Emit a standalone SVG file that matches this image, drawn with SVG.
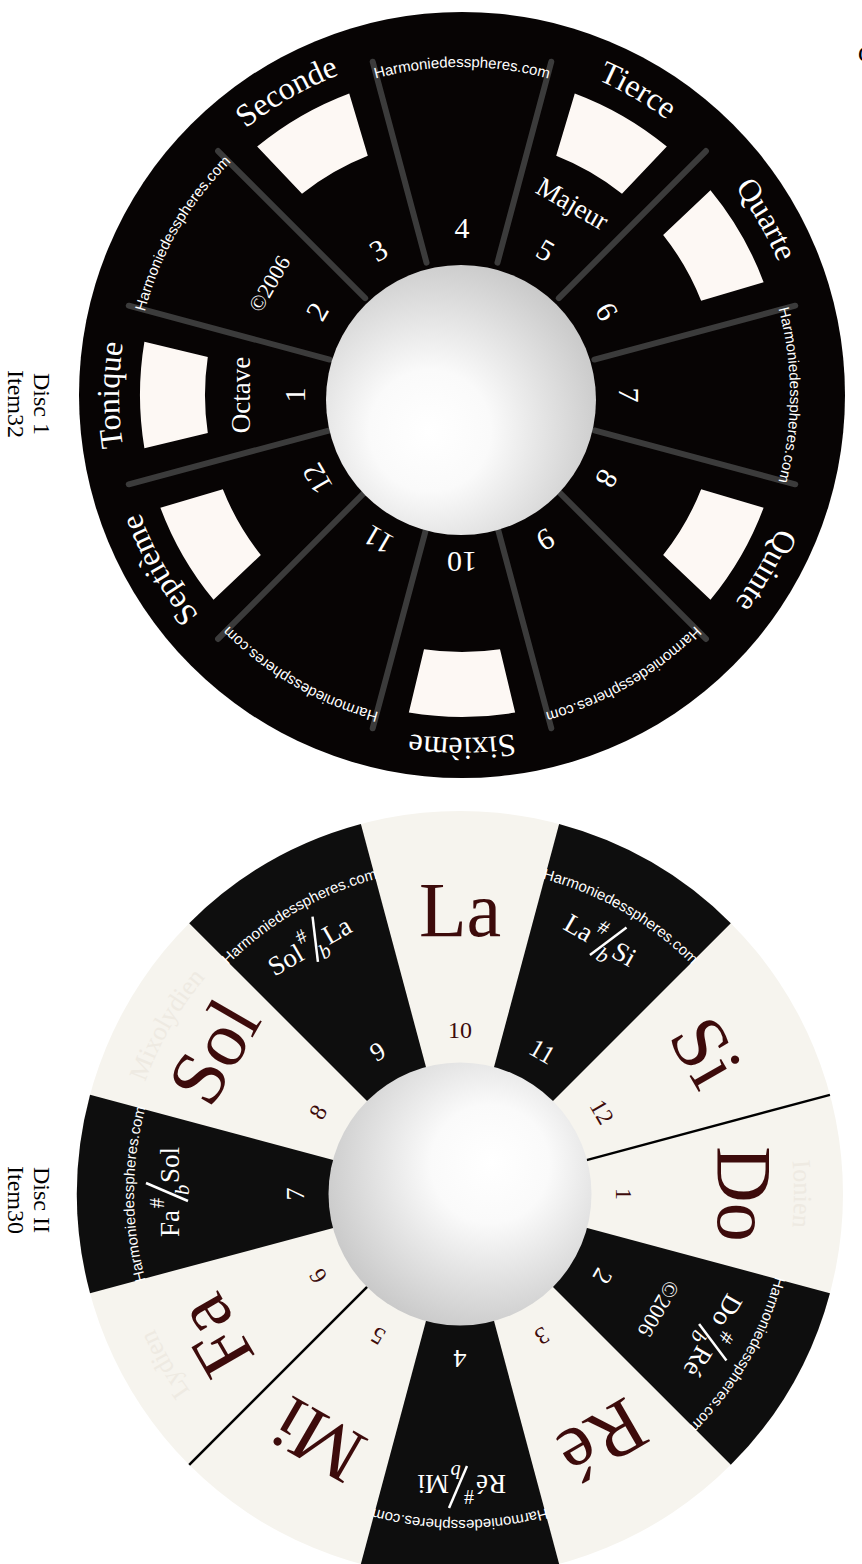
<svg xmlns="http://www.w3.org/2000/svg" width="862" height="1564" viewBox="0 0 862 1564">
<style>
.sf{font-family:"Liberation Serif","Times New Roman",serif}
.num1{font-family:"Liberation Serif",serif;font-size:30px;fill:#fff;text-anchor:middle}
.rim{font-family:"Liberation Serif",serif;font-size:32px;fill:#fff;text-anchor:middle}
.inn{font-family:"Liberation Serif",serif;font-size:27px;fill:#fff;text-anchor:middle}
.url{font-family:"Liberation Sans",Arial,sans-serif;font-size:15px;fill:#fff;text-anchor:middle}
.dv{stroke:#3b3b3b;stroke-width:6;stroke-linecap:round}
.win{fill:#fdf8f4}
.big{font-family:"Liberation Serif",serif;font-size:78px;fill:#3d0b0b;text-anchor:middle}
.n2c{font-family:"Liberation Serif",serif;font-size:24px;fill:#3d0b0b;text-anchor:middle}
.n2b{font-family:"Liberation Serif",serif;font-size:26px;fill:#fff;text-anchor:middle}
.fr{font-family:"Liberation Serif",serif;font-size:27px;fill:#fff}
.sup{font-family:"Liberation Serif",serif;font-size:20px;fill:#fff}
.sub{font-family:"Liberation Serif",serif;font-size:21px;font-style:italic;fill:#fff}
.sl{stroke:#fff;stroke-width:2.5}
.mode{font-family:"Liberation Serif",serif;font-size:26px;fill:#eeeae2;text-anchor:middle}
.lbl{font-family:"Liberation Serif",serif;font-size:24px;fill:#000;text-anchor:middle}
.blk{fill:#0e0e0e}
.thin{stroke:#000;stroke-width:2.5}
</style>
<defs>
<path id="a343" d="M -262.7,-220.5 A 343 343 0 0 1 262.7,-220.5"/>
<path id="a328" d="M -251.3,-210.8 A 328 328 0 0 1 251.3,-210.8"/>
<path id="a326" d="M -249.7,-209.6 A 326 326 0 0 1 249.7,-209.6"/>
<path id="a334" d="M -255.9,-214.7 A 334 334 0 0 1 255.9,-214.7"/>
<path id="win" d="M -53.15,-317.6 A 322 322 0 0 1 53.15,-317.6 L 37.99,-254.2 A 257 257 0 0 0 -37.99,-254.2 Z"/>
<path id="wedge" d="M 0,0 L -99.13,-369.95 A 383 383 0 0 1 99.13,-369.95 Z"/>
<radialGradient id="g1" cx="0.4" cy="0.6" r="0.75" fx="0.38" fy="0.62">
<stop offset="0" stop-color="#ffffff"/><stop offset="0.3" stop-color="#fafafa"/><stop offset="1" stop-color="#bdbdbd"/>
</radialGradient>
<radialGradient id="g2" cx="0.6" cy="0.4" r="0.75" fx="0.62" fy="0.38">
<stop offset="0" stop-color="#ffffff"/><stop offset="0.3" stop-color="#fafafa"/><stop offset="1" stop-color="#bdbdbd"/>
</radialGradient>
</defs>
<rect width="862" height="1564" fill="#fff"/>

<g id="disc1" transform="translate(462,395)">
<circle r="383" fill="#070404"/>
<g id="disc1-windows" class="win">
<use href="#win" transform="rotate(270)"/><use href="#win" transform="rotate(330)"/><use href="#win" transform="rotate(30)"/><use href="#win" transform="rotate(60)"/><use href="#win" transform="rotate(120)"/><use href="#win" transform="rotate(180)"/><use href="#win" transform="rotate(240)"/>
</g>
<g id="disc1-dividers" class="dv">
<line x1="0" y1="-137" x2="0" y2="-345" transform="rotate(105)"/><line x1="0" y1="-137" x2="0" y2="-345" transform="rotate(135)"/><line x1="0" y1="-137" x2="0" y2="-345" transform="rotate(165)"/><line x1="0" y1="-137" x2="0" y2="-345" transform="rotate(195)"/><line x1="0" y1="-137" x2="0" y2="-345" transform="rotate(225)"/><line x1="0" y1="-137" x2="0" y2="-345" transform="rotate(255)"/><line x1="0" y1="-137" x2="0" y2="-345" transform="rotate(285)"/><line x1="0" y1="-137" x2="0" y2="-345" transform="rotate(315)"/><line x1="0" y1="-137" x2="0" y2="-345" transform="rotate(345)"/><line x1="0" y1="-137" x2="0" y2="-345" transform="rotate(15)"/><line x1="0" y1="-137" x2="0" y2="-345" transform="rotate(45)"/><line x1="0" y1="-137" x2="0" y2="-345" transform="rotate(75)"/>
</g>
<circle cx="-1" cy="5" r="135" fill="url(#g1)"/>
<g id="disc1-rim">
<text class="rim" transform="rotate(270)"><textPath href="#a343" startOffset="50%">Tonique</textPath></text>
<text class="rim" transform="rotate(330)"><textPath href="#a343" startOffset="50%">Seconde</textPath></text>
<text class="rim" transform="rotate(30)"><textPath href="#a343" startOffset="50%">Tierce</textPath></text>
<text class="rim" transform="rotate(60)"><textPath href="#a343" startOffset="50%">Quarte</textPath></text>
<text class="rim" transform="rotate(120)"><textPath href="#a343" startOffset="50%">Quinte</textPath></text>
<text class="rim" transform="rotate(180)"><textPath href="#a343" startOffset="50%">Sixième</textPath></text>
<text class="rim" transform="rotate(240)"><textPath href="#a343" startOffset="50%">Septième</textPath></text>
<text class="url" transform="rotate(300)"><textPath href="#a328" startOffset="50%">Harmoniedesspheres.com</textPath></text>
<text class="url" transform="rotate(0)"><textPath href="#a328" startOffset="50%">Harmoniedesspheres.com</textPath></text>
<text class="url" transform="rotate(90)"><textPath href="#a328" startOffset="50%">Harmoniedesspheres.com</textPath></text>
<text class="url" transform="rotate(150)"><textPath href="#a328" startOffset="50%">Harmoniedesspheres.com</textPath></text>
<text class="url" transform="rotate(210)"><textPath href="#a328" startOffset="50%">Harmoniedesspheres.com</textPath></text>
</g>
<g id="disc1-inner">
<text class="inn" transform="rotate(270) translate(0,-212)">Octave</text>
<text class="inn" transform="rotate(30) translate(0,-212)">Majeur</text>
<text class="inn" style="font-size:22px" transform="rotate(300) translate(0,-215)">©2006</text>
</g>
<g id="disc1-numbers">
<text class="num1" transform="rotate(270) translate(0,-157)">1</text>
<text class="num1" transform="rotate(300) translate(0,-157)">2</text>
<text class="num1" transform="rotate(330) translate(0,-157)">3</text>
<text class="num1" transform="rotate(0) translate(0,-157)">4</text>
<text class="num1" transform="rotate(30) translate(0,-157)">5</text>
<text class="num1" transform="rotate(60) translate(0,-157)">6</text>
<text class="num1" transform="rotate(90) translate(0,-157)">7</text>
<text class="num1" transform="rotate(120) translate(0,-157)">8</text>
<text class="num1" transform="rotate(150) translate(0,-157)">9</text>
<text class="num1" transform="rotate(180) translate(0,-157)">10</text>
<text class="num1" transform="rotate(210) translate(0,-157)">11</text>
<text class="num1" transform="rotate(240) translate(0,-157)">12</text>
</g>
</g>

<g id="disc2" transform="translate(460,1194)">
<circle r="383" fill="#f6f4ee"/>
<g id="disc2-black" class="blk">
<use href="#wedge" transform="rotate(120)"/><use href="#wedge" transform="rotate(180)"/><use href="#wedge" transform="rotate(270)"/><use href="#wedge" transform="rotate(330)"/><use href="#wedge" transform="rotate(30)"/>
</g>
<g id="disc2-lines" class="thin">
<line x1="0" y1="-131" x2="0" y2="-383" transform="rotate(75)"/>
<line x1="0" y1="-131" x2="0" y2="-383" transform="rotate(225)"/>
</g>
<circle cx="0" cy="0" r="131.5" fill="url(#g2)"/>
<g id="disc2-modes">
<text class="mode" transform="rotate(90)"><textPath href="#a334" startOffset="50%">Ionien</textPath></text>
<text class="mode" transform="rotate(300)"><textPath href="#a334" startOffset="50%">Mixolydien</textPath></text>
<text class="mode" transform="rotate(240)"><textPath href="#a334" startOffset="50%">Lydien</textPath></text>
</g>
<g id="disc2-names">
<text class="big" transform="rotate(90) translate(0,-258)">Do</text>
<text class="big" transform="rotate(150) translate(0,-258)">Ré</text>
<text class="big" transform="rotate(210) translate(0,-258)">Mi</text>
<text class="big" transform="rotate(240) translate(0,-258)">Fa</text>
<text class="big" transform="rotate(300) translate(0,-258)">Sol</text>
<text class="big" transform="rotate(0) translate(0,-258)">La</text>
<text class="big" transform="rotate(60) translate(0,-258)">Si</text>
</g>
<g id="disc2-urls">
<text class="url" transform="rotate(120)"><textPath href="#a326" startOffset="50%">Harmoniedesspheres.com</textPath></text>
<text class="url" transform="rotate(180)"><textPath href="#a326" startOffset="50%">Harmoniedesspheres.com</textPath></text>
<text class="url" transform="rotate(270)"><textPath href="#a326" startOffset="50%">Harmoniedesspheres.com</textPath></text>
<text class="url" transform="rotate(330)"><textPath href="#a326" startOffset="50%">Harmoniedesspheres.com</textPath></text>
<text class="url" transform="rotate(30)"><textPath href="#a326" startOffset="50%">Harmoniedesspheres.com</textPath></text>
</g>
<g id="disc2-fractions">
<g transform="rotate(120) translate(0,-290)"><text class="fr" x="-16" y="9" text-anchor="end">Do</text><text class="sup" x="-14" y="-6">#</text><line class="sl" x1="-7" y1="18" x2="11" y2="-24"/><text class="sub" x="-1" y="19">b</text><text class="fr" x="11" y="9">Ré</text></g>
<g transform="rotate(180) translate(0,-290)"><text class="fr" x="-16" y="9" text-anchor="end">Ré</text><text class="sup" x="-14" y="-6">#</text><line class="sl" x1="-7" y1="18" x2="11" y2="-24"/><text class="sub" x="-1" y="19">b</text><text class="fr" x="11" y="9">Mi</text></g>
<g transform="rotate(270) translate(0,-290)"><text class="fr" x="-16" y="9" text-anchor="end">Fa</text><text class="sup" x="-14" y="-6">#</text><line class="sl" x1="-7" y1="18" x2="11" y2="-24"/><text class="sub" x="-1" y="19">b</text><text class="fr" x="11" y="9">Sol</text></g>
<g transform="rotate(330) translate(0,-290)"><text class="fr" x="-16" y="9" text-anchor="end">Sol</text><text class="sup" x="-14" y="-6">#</text><line class="sl" x1="-7" y1="18" x2="11" y2="-24"/><text class="sub" x="-1" y="19">b</text><text class="fr" x="11" y="9">La</text></g>
<g transform="rotate(30) translate(0,-290)"><text class="fr" x="-16" y="9" text-anchor="end">La</text><text class="sup" x="-14" y="-6">#</text><line class="sl" x1="-7" y1="18" x2="11" y2="-24"/><text class="sub" x="-1" y="19">b</text><text class="fr" x="11" y="9">Si</text></g>
</g>
<text class="n2b" style="font-size:22px" transform="rotate(120) translate(0,-222)">©2006</text>
<g id="disc2-numbers">
<text class="n2c" transform="rotate(90) translate(0,-156)">1</text>
<text class="n2b" transform="rotate(120) translate(0,-156)">2</text>
<text class="n2c" transform="rotate(150) translate(0,-156)">3</text>
<text class="n2b" transform="rotate(180) translate(0,-156)">4</text>
<text class="n2c" transform="rotate(210) translate(0,-156)">5</text>
<text class="n2c" transform="rotate(240) translate(0,-156)">6</text>
<text class="n2b" transform="rotate(270) translate(0,-156)">7</text>
<text class="n2c" transform="rotate(300) translate(0,-156)">8</text>
<text class="n2b" transform="rotate(330) translate(0,-156)">9</text>
<text class="n2c" transform="rotate(0) translate(0,-156)">10</text>
<text class="n2b" transform="rotate(30) translate(0,-156)">11</text>
<text class="n2c" transform="rotate(60) translate(0,-156)">12</text>
</g>
</g>

<g id="captions">
<text class="lbl" transform="translate(34,404) rotate(90)">Disc 1</text>
<text class="lbl" transform="translate(8,404) rotate(90)">Item32</text>
<text class="lbl" transform="translate(34,1200) rotate(90)">Disc II</text>
<text class="lbl" transform="translate(8,1200) rotate(90)">Item30</text>
<text class="sf" x="858" y="62" font-size="24" fill="#000">C</text>
</g>
</svg>
